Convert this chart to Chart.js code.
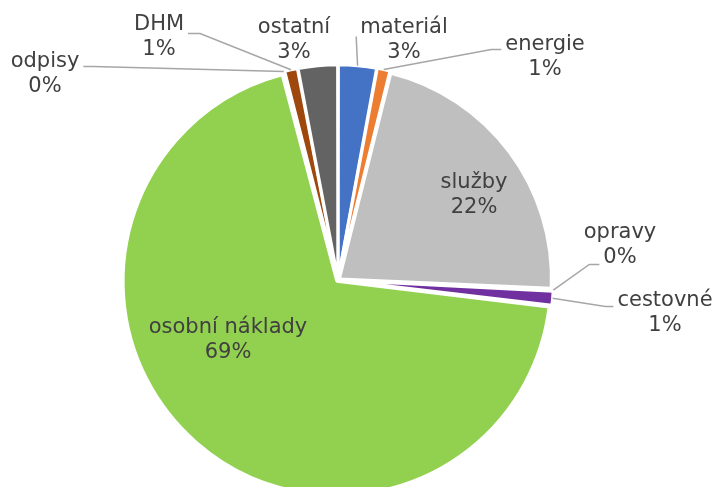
<!DOCTYPE html>
<html>
<head>
<meta charset="utf-8">
<script src="https://cdn.jsdelivr.net/npm/chart.js@4/dist/chart.umd.min.js"></script>
<style>
  html, body { margin: 0; padding: 0; background: #fff; overflow: hidden; }
  #wrap { width: 717px; height: 487px; overflow: hidden; }
</style>
</head>
<body>
<div id="wrap"><canvas id="pieChart" width="717" height="520"></canvas></div>
<script>
// ===== Náklady - koláčový graf =====
const categories = ['materiál', 'energie', 'služby', 'opravy', 'cestovné', 'osobní náklady', 'odpisy', 'DHM', 'ostatní'];
const shares = [2.9, 1.0, 21.8, 0.1, 1.1, 69.0, 0.1, 1.0, 3.0];
const sliceColors = ['#4472C4', '#ED7D31', '#BFBFBF', '#FFC000', '#7030A0', '#92D050', '#5B9BD5', '#9E480E', '#636363'];

// label block centre relative to pie centre, and leader line spec [side, line, dy, elbow] (null = no leader)
const labelPos = [[66, -240], [207, -223], [136, -85], [282, -35], [327, 33], [-110, 60], [-293, -206], [-179, -243], [-44, -240]];
const leaders = [['l', 0, 9, 0], ['l', 0, 5, 10], null, ['l', 1, 7, 10], ['l', 0, 6, 8], null, ['r', 0, 5, 10], ['r', 0, 9, 12], null];

const FONT = '21px "DejaVu Sans", Verdana, sans-serif';
const LINE_H = 25;

const pieLabels = {
  id: 'pieLabels',
  afterDatasetsDraw(chart) {
    const ctx = chart.ctx;
    const arcs = chart.getDatasetMeta(0).data;
    ctx.save();
    ctx.font = FONT;
    ctx.textAlign = 'center';
    ctx.textBaseline = 'middle';
    arcs.forEach((arc, i) => {
      const p = arc.getProps(['x', 'y', 'startAngle', 'endAngle', 'outerRadius', 'circumference'], true);
      const cx = p.x, cy = p.y;
      const lines = [categories[i], Math.round(shares[i]) + '%'];
      const bx = cx + labelPos[i][0];
      const by = cy + labelPos[i][1];
      const top = by - LINE_H / 2;

      if (leaders[i]) {
        const [side, li, dy, elbow] = leaders[i];
        const off = (arc.options.offset || 0) / 4;
        const fix = 1 - Math.sin(Math.min(Math.PI, p.circumference || 0));
        const t = off * (1 + fix);
        const mid = (p.startAngle + p.endAngle) / 2;
        const r = p.outerRadius + t;
        const sx = cx + Math.cos(mid) * r;
        const sy = cy + Math.sin(mid) * r;
        const w = ctx.measureText(lines[li]).width;
        const ly = top + li * LINE_H + dy;
        const ex = side === 'l' ? bx - w / 2 - 4 : bx + w / 2 + 4;
        const kx = side === 'l' ? ex - elbow : ex + elbow;
        ctx.strokeStyle = '#A6A6A6';
        ctx.lineWidth = 1.5;
        ctx.beginPath();
        ctx.moveTo(sx, sy);
        ctx.lineTo(kx, ly);
        ctx.lineTo(ex, ly);
        ctx.stroke();
      }

      ctx.fillStyle = '#404040';
      lines.forEach((txt, li) => ctx.fillText(txt, bx, top + li * LINE_H));
    });
    ctx.restore();
  }
};

new Chart(document.getElementById('pieChart'), {
  type: 'pie',
  data: {
    labels: categories,
    datasets: [{
      data: shares,
      backgroundColor: sliceColors,
      borderColor: '#ffffff',
      borderWidth: 3,
      offset: 7,
      clip: false
    }]
  },
  options: {
    responsive: false,
    animation: false,
    events: [],
    radius: 212,
    layout: { padding: { left: 0, right: 41, top: 40, bottom: 0 } },
    plugins: { legend: { display: false }, tooltip: { enabled: false } }
  },
  plugins: [pieLabels]
});
</script>
</body>
</html>
